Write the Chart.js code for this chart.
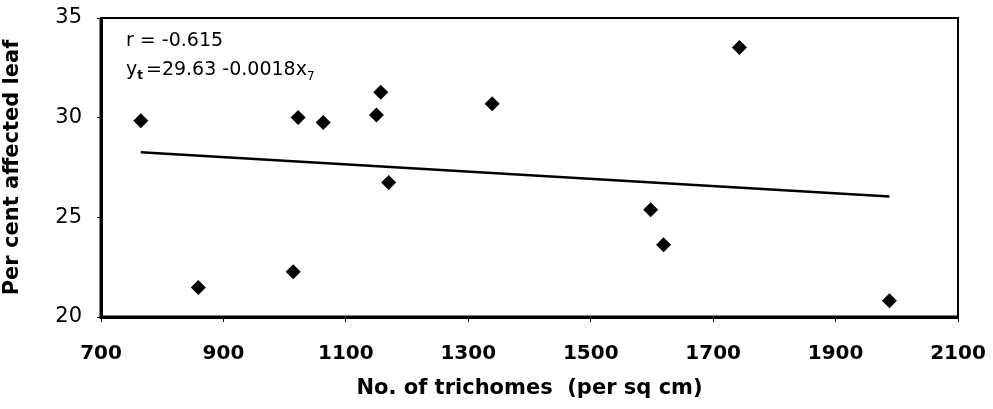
<!DOCTYPE html>
<html>
<head>
<meta charset="utf-8">
<script src="https://cdn.jsdelivr.net/npm/chart.js@4.4.0/dist/chart.umd.min.js"></script>
<style>
  html, body { margin: 0; padding: 0; background: #fff; }
  #wrap { width: 993px; height: 409px; }
</style>
</head>
<body>
<div id="wrap"><canvas id="scatterChart" width="993" height="409"></canvas></div>
<script>
// trichome counts (per sq cm) and per cent affected leaf
var trichomes = [765, 859, 1014, 1022, 1063, 1150, 1157, 1170, 1339, 1598, 1619, 1743, 1988];
var affected = [29.85, 21.48, 22.27, 30.01, 29.76, 30.13, 31.27, 26.75, 30.7, 25.38, 23.63, 33.52, 20.82];

// fitted line y = 29.63 - 0.0018x, end points
var fitX = [765, 1988];
var fitY = [28.27, 26.05];

var xTicks = [700, 900, 1100, 1300, 1500, 1700, 1900, 2100];
var yTicks = [20, 25, 30, 35];

var fontName = "'DejaVu Sans', sans-serif";

var framePlugin = {
  id: "frame",
  afterDatasetsDraw: function (chart) {
    var ctx = chart.ctx;
    var a = chart.chartArea;
    ctx.save();
    ctx.strokeStyle = "#000";
    ctx.lineWidth = 2;
    ctx.strokeRect(a.left, a.top, a.right - a.left, a.bottom - a.top);
    ctx.lineWidth = 3;
    ctx.beginPath();
    ctx.moveTo(a.left, a.top);
    ctx.lineTo(a.left, a.bottom);
    ctx.lineTo(a.right, a.bottom);
    ctx.stroke();

    // r and regression equation
    ctx.fillStyle = "#000";
    ctx.textBaseline = "alphabetic";
    ctx.font = "19px " + fontName;
    var x0 = a.left + 25;
    ctx.fillText("r = -0.615", x0, a.top + 28);
    var y2 = a.top + 57;
    ctx.fillText("y", x0, y2);
    var w = ctx.measureText("y").width;
    ctx.font = "bold 12px " + fontName;
    ctx.fillText("t", x0 + w, y2 + 4);
    w += ctx.measureText("t").width + 3;
    ctx.font = "19px " + fontName;
    ctx.fillText("=29.63 -0.0018x", x0 + w, y2);
    w += ctx.measureText("=29.63 -0.0018x").width;
    ctx.font = "12px " + fontName;
    ctx.fillText("7", x0 + w, y2 + 5);
    ctx.restore();
  },
};

var points = trichomes.map(function (t, i) {
  return { x: t, y: affected[i] };
});
var fitLine = fitX.map(function (t, i) {
  return { x: t, y: fitY[i] };
});

var ctx = document.getElementById("scatterChart").getContext("2d");

var scatterChart = new Chart(ctx, {
  type: "scatter",
  data: {
    datasets: [
      {
        label: "Per cent affected leaf",
        data: points,
        pointStyle: "rectRot",
        pointRadius: 7.5,
        pointHoverRadius: 7.5,
        backgroundColor: "#000",
        borderColor: "#000",
        borderWidth: 0,
      },
      {
        label: "Fit",
        type: "line",
        data: fitLine,
        showLine: true,
        borderColor: "#000",
        borderWidth: 2.5,
        pointRadius: 0,
        fill: false,
      },
    ],
  },
  options: {
    responsive: false,
    animation: false,
    layout: {
      padding: { top: 18, right: 35, left: 0, bottom: 0 },
    },
    plugins: {
      legend: { display: false },
      tooltip: { enabled: false },
    },
    scales: {
      x: {
        type: "linear",
        min: 700,
        max: 2100,
        afterBuildTicks: function (scale) {
          scale.ticks = xTicks.map(function (v) { return { value: v }; });
        },
        afterFit: function (scale) {
          scale.height = 92;
          scale.paddingLeft = 0;
          scale.paddingRight = 0;
        },
        grid: { drawOnChartArea: false, drawTicks: true, tickLength: 5, color: "#000", lineWidth: 1 },
        border: { display: true, color: "#000", width: 3 },
        ticks: {
          color: "#000",
          padding: 20,
          maxRotation: 0,
          font: { family: fontName, size: 20, weight: "bold" },
          callback: function (v) { return String(v); },
        },
        title: {
          display: true,
          text: "No. of trichomes  (per sq cm)",
          color: "#000",
          font: { family: fontName, size: 21, weight: "bold" },
          padding: { top: 0, bottom: 8 },
        },
      },
      y: {
        type: "linear",
        min: 20,
        max: 35,
        afterBuildTicks: function (scale) {
          scale.ticks = yTicks.map(function (v) { return { value: v }; });
        },
        afterFit: function (scale) {
          scale.width = 101;
          scale.paddingTop = 0;
          scale.paddingBottom = 0;
        },
        grid: { drawOnChartArea: false, drawTicks: true, tickLength: 4, color: "#000", lineWidth: 1 },
        border: { display: true, color: "#000", width: 3 },
        ticks: {
          color: "#000",
          padding: 15,
          font: { family: fontName, size: 21 },
        },
        title: {
          display: true,
          text: "Per cent affected leaf",
          color: "#000",
          font: { family: fontName, size: 21, weight: "bold" },
          padding: { top: 0, bottom: 8 },
        },
      },
    },
  },
  plugins: [framePlugin],
});
</script>
</body>
</html>
